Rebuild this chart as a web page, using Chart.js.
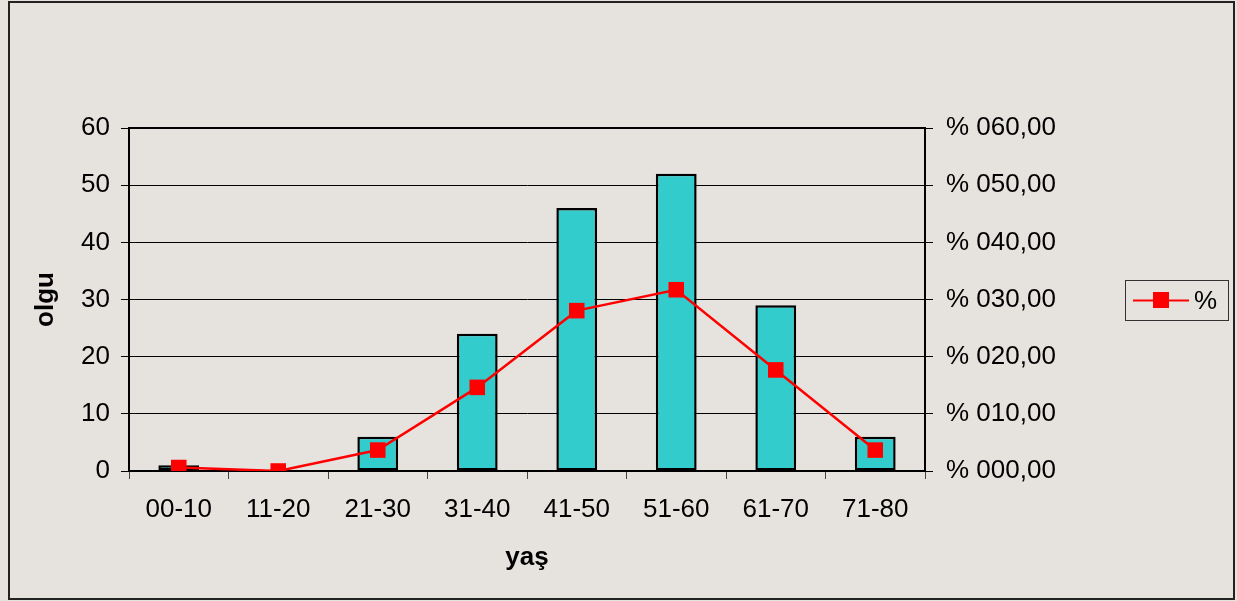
<!DOCTYPE html>
<html>
<head>
<meta charset="utf-8">
<script src="https://cdn.jsdelivr.net/npm/chart.js@4/dist/chart.umd.min.js"></script>
<style>
  html, body { margin: 0; padding: 0; background: #E6E3DF; }
  #wrap { width: 1237px; height: 601px; }
</style>
</head>
<body>
<div id="wrap"><canvas id="c" width="1237" height="601"></canvas></div>
<script>
// Age groups and case counts
const ageGroups = ['00-10', '11-20', '21-30', '31-40', '41-50', '51-60', '61-70', '71-80'];
const caseCounts = [1, 0, 6, 24, 46, 52, 29, 6];
// Share of all cases per age group (%)
const casePercent = [0.61, 0, 3.66, 14.63, 28.05, 31.71, 17.68, 3.66];
const leftTicks = [0, 10, 20, 30, 40, 50, 60];
const rightTicks = [0, 10, 20, 30, 40, 50, 60];

const FONT = 'Liberation Sans, Arial, sans-serif';
const BG = '#E6E3DF';

// Background, outer frame, plot frame and legend box
const framePlugin = {
  id: 'frame',
  beforeDraw(chart) {
    const ctx = chart.ctx;
    ctx.save();
    ctx.fillStyle = BG;
    ctx.fillRect(0, 0, chart.width, chart.height);
    ctx.strokeStyle = '#222';
    ctx.lineWidth = 2;
    ctx.strokeRect(9, 2, 1225, 597);
    ctx.restore();
  },
  beforeDatasetsDraw(chart) {
    const a = chart.chartArea;
    const ctx = chart.ctx;
    ctx.save();
    ctx.strokeStyle = '#000';
    ctx.lineWidth = 2;
    ctx.strokeRect(a.left, a.top, a.right - a.left, a.bottom - a.top);
    ctx.restore();
  },
  afterDraw(chart) {
    const ctx = chart.ctx;
    const ds = chart.data.datasets.find(d => d.type === 'line');
    ctx.save();
    // legend box
    ctx.strokeStyle = '#333';
    ctx.lineWidth = 1;
    ctx.strokeRect(1125.5, 280.5, 103, 40);
    // legend line sample with marker
    ctx.strokeStyle = ds.borderColor;
    ctx.lineWidth = 2;
    ctx.beginPath();
    ctx.moveTo(1133, 300.5);
    ctx.lineTo(1189, 300.5);
    ctx.stroke();
    ctx.fillStyle = ds.backgroundColor;
    ctx.fillRect(1153, 292, 16, 16);
    ctx.fillStyle = '#000';
    ctx.font = '26px ' + FONT;
    ctx.textBaseline = 'middle';
    ctx.textAlign = 'left';
    ctx.fillText(ds.label, 1194, 302);
    ctx.restore();
  }
};

const chart = new Chart(document.getElementById('c'), {
  data: {
    labels: ageGroups,
    datasets: [
      {
        type: 'line',
        label: '%',
        data: casePercent,
        yAxisID: 'y1',
        borderColor: '#FF0000',
        backgroundColor: '#FF0000',
        borderWidth: 2.5,
        pointStyle: 'rect',
        pointRadius: 11,
        pointHoverRadius: 11,
        pointBorderWidth: 0,
        tension: 0,
        order: 0
      },
      {
        type: 'bar',
        label: 'olgu',
        data: caseCounts,
        yAxisID: 'y',
        backgroundColor: '#33CCCC',
        borderColor: '#000',
        borderWidth: 2.5,
        borderSkipped: false,
        categoryPercentage: 1,
        barPercentage: 0.41,
        order: 1
      }
    ]
  },
  options: {
    responsive: false,
    animation: false,
    events: [],
    layout: { padding: { top: 128, left: 0, right: 0, bottom: 0 } },
    plugins: {
      legend: { display: false },
      tooltip: { enabled: false }
    },
    scales: {
      x: {
        type: 'category',
        offset: true,
        grid: {
          offset: true,
          drawOnChartArea: false,
          drawTicks: true,
          tickLength: 8,
          color: '#444',
          lineWidth: 1
        },
        border: { display: true, color: '#000', width: 2 },
        ticks: {
          color: '#000',
          padding: 15,
          font: { family: FONT, size: 26 }
        },
        title: {
          display: true,
          text: 'yaş',
          color: '#000',
          font: { family: FONT, size: 26, weight: 'bold' },
          padding: { top: 0, bottom: 28 }
        },
        afterFit(s) { s.height = 130; }
      },
      y: {
        position: 'left',
        min: 0,
        max: 60,
        afterBuildTicks(s) { s.ticks = leftTicks.map(v => ({ value: v })); },
        grid: {
          color: '#000',
          lineWidth: 1,
          tickLength: 8,
          drawTicks: true
        },
        border: { display: true, color: '#000', width: 2 },
        ticks: {
          color: '#000',
          padding: 11,
          font: { family: FONT, size: 26 }
        },
        title: {
          display: true,
          text: 'olgu',
          color: '#000',
          font: { family: FONT, size: 26, weight: 'bold' },
          padding: { top: 30, bottom: 0 }
        },
        afterFit(s) { s.width = 129; }
      },
      y1: {
        position: 'right',
        min: 0,
        max: 60,
        afterBuildTicks(s) { s.ticks = rightTicks.map(v => ({ value: v })); },
        grid: {
          drawOnChartArea: false,
          drawTicks: true,
          tickLength: 8,
          color: '#000',
          lineWidth: 1
        },
        border: { display: true, color: '#000', width: 2 },
        ticks: {
          color: '#000',
          padding: 13,
          font: { family: FONT, size: 26 },
          callback: v => '% ' + String(v).padStart(3, '0') + ',00'
        },
        afterFit(s) { s.width = 312; }
      }
    }
  },
  plugins: [framePlugin]
});
</script>
</body>
</html>
